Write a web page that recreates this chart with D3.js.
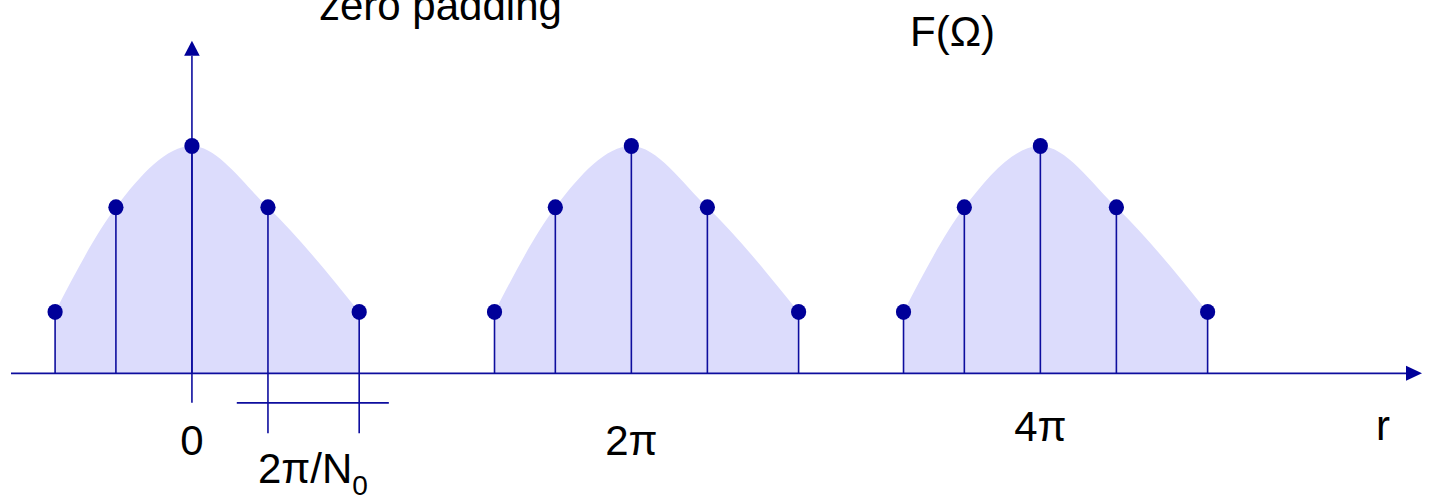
<!DOCTYPE html>
<html>
<head>
<meta charset="utf-8">
<script src="https://cdn.jsdelivr.net/npm/d3@7"></script>
<style>
  html, body { margin: 0; padding: 0; background: #fff; }
  svg { display: block; }
  text { font-family: "Liberation Sans", Arial, sans-serif; fill: #000; }
</style>
</head>
<body>
<svg id="chart" width="1431" height="500"></svg>
<script>
// Sample positions within one period, in units of the bin spacing 2π/N0
const sampleOffsets = [-1.8, -1, 0, 1, 2.2];
// Sample magnitudes of F(Ω) (peak normalised to 1)
const sampleValues = [0.27, 0.73, 1.0, 0.73, 0.27];
// Centres of the repeated spectra, same units as the offsets
const periodCenters = [0, 5.78, 11.16];
const periodLabels = ["0", "2π", "4π"];
// Bins marked by the 2π/N0 spacing bracket
const spacingBins = [1, 2.2];

const svg = d3.select("#chart");
const ink = "#000099";
const lineInk = "#0d0d9e";
const fillShade = "#dcdcfc";

const x = d3.scaleLinear().domain([-2.38, 16.18]).range([11, 1422]);
const y = d3.scaleLinear().domain([0, 1]).range([373.3, 146]);

// Shaded continuous spectrum under each period
const area = d3.area()
  .x(d => x(d.pos))
  .y0(y(0))
  .y1(d => y(d.val))
  .curve(d3.curveMonotoneX);

const periods = periodCenters.map((c, i) => ({
  center: c,
  label: periodLabels[i],
  samples: sampleOffsets.map((o, j) => ({ pos: c + o, val: sampleValues[j] }))
}));

svg.append("g").selectAll("path")
  .data(periods)
  .join("path")
  .attr("d", p => area(p.samples))
  .attr("fill", fillShade);

// Frequency axis with arrow
const arrowHalf = 7.5, arrowLen = 16;
svg.append("line")
  .attr("x1", x(-2.38)).attr("x2", x(16.18) - arrowLen)
  .attr("y1", y(0)).attr("y2", y(0))
  .attr("stroke", lineInk).attr("stroke-width", 1.7);
svg.append("path")
  .attr("d", `M${x(16.18)},${y(0)} L${x(16.18) - arrowLen},${y(0) - arrowHalf} L${x(16.18) - arrowLen},${y(0) + arrowHalf} Z`)
  .attr("fill", ink);

// Vertical axis through Ω = 0
const yTop = 1.463;
svg.append("line")
  .attr("x1", x(0)).attr("x2", x(0))
  .attr("y1", y(-0.13)).attr("y2", y(yTop) + 15)
  .attr("stroke", lineInk).attr("stroke-width", 1.6);
svg.append("path")
  .attr("d", `M${x(0)},${y(yTop)} L${x(0) - 7.8},${y(yTop) + 15} L${x(0) + 7.8},${y(yTop) + 15} Z`)
  .attr("fill", ink);

// Stems and sample dots
const allSamples = periods.flatMap(p => p.samples);
svg.append("g").selectAll("line")
  .data(allSamples)
  .join("line")
  .attr("x1", d => x(d.pos)).attr("x2", d => x(d.pos))
  .attr("y1", y(0)).attr("y2", d => y(d.val))
  .attr("stroke", lineInk).attr("stroke-width", 1.6);

svg.append("g").selectAll("ellipse")
  .data(allSamples)
  .join("ellipse")
  .attr("cx", d => x(d.pos)).attr("cy", d => y(d.val))
  .attr("rx", 7.6).attr("ry", 8)
  .attr("fill", ink);

// Bin spacing marker: ticks below the axis and a horizontal bracket
svg.append("g").selectAll("line")
  .data(spacingBins)
  .join("line")
  .attr("x1", d => x(d)).attr("x2", d => x(d))
  .attr("y1", y(0)).attr("y2", y(-0.264))
  .attr("stroke", lineInk).attr("stroke-width", 1.6);
svg.append("line")
  .attr("x1", x(spacingBins[0] - 0.41)).attr("x2", x(spacingBins[1] + 0.39))
  .attr("y1", y(-0.13)).attr("y2", y(-0.13))
  .attr("stroke", lineInk).attr("stroke-width", 1.6);

// Period labels under the axis
const labelBaselines = [455, 455, 441];
svg.append("g").selectAll("text")
  .data(periods)
  .join("text")
  .attr("x", p => x(p.center))
  .attr("y", (p, i) => labelBaselines[i])
  .attr("text-anchor", "middle")
  .attr("font-size", 42)
  .text(p => p.label);

// 2π/N0 label
const spacingLabel = svg.append("text")
  .attr("x", 258).attr("y", 483)
  .attr("font-size", 42);
spacingLabel.append("tspan").text("2π/N");
spacingLabel.append("tspan").attr("font-size", 28).attr("dy", 12).text("0");

// Axis name and titles
svg.append("text").attr("x", 1376).attr("y", 440).attr("font-size", 42).text("r");
svg.append("text").attr("x", 910).attr("y", 46).attr("font-size", 42).text("F(Ω)");
svg.append("text").attr("x", 319).attr("y", 20).attr("font-size", 42).text("zero padding");
</script>
</body>
</html>
